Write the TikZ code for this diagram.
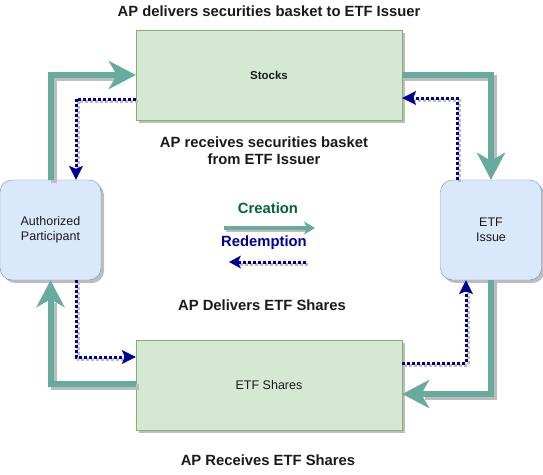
\documentclass[tikz,border=0pt]{standalone}
\usepackage{fontspec}
\setmainfont{Liberation Sans}
\usetikzlibrary{arrows.meta,shadows,calc}
\definecolor{sfill}{HTML}{D5E8D4}
\definecolor{sdraw}{HTML}{82B366}
\definecolor{afill}{HTML}{DAE8FC}
\definecolor{adraw}{HTML}{6C8EBF}
\definecolor{garrow}{HTML}{67AB9F}
\definecolor{barrow}{HTML}{000099}
\definecolor{shgray}{HTML}{BDBDBD}
\definecolor{cgreen}{HTML}{006633}
\definecolor{txt}{HTML}{1A1A1A}
\begin{document}
\begin{tikzpicture}[x=1pt,y=-1pt,
  boxshadow/.style={drop shadow={shadow xshift=3pt,shadow yshift=-3pt,fill=shgray,opacity=1}},
  sbox/.style={draw=sdraw,fill=sfill,minimum width=266pt,minimum height=90pt,inner sep=0pt,boxshadow,
    font=\fontsize{12.5}{15}\selectfont,text=txt},
  abox/.style={draw=adraw,fill=afill,rounded corners=12pt,minimum width=101pt,minimum height=100pt,inner sep=0pt,boxshadow,
    align=center,font=\fontsize{12.5}{15}\selectfont,text=txt},
  label/.style={font=\bfseries\fontsize{14.8}{17}\selectfont,text=txt,align=center},
  thickarrow/.style={line width=6pt,draw=garrow,-{Stealth[length=27pt,width=28pt,inset=8pt]}},
  thickshadow/.style={line width=6pt,draw=shgray,shorten >=20pt},
  dotarrow/.style={line width=3pt,draw=barrow,dash pattern=on 3pt off 2pt,-{Stealth[length=14pt,width=14pt,inset=3pt,line width=0pt]}},
  dotshadow/.style={line width=3pt,draw=shgray,dash pattern=on 3pt off 2pt,shorten >=10pt},
]
\useasboundingbox (0,0) rectangle (543,474);
\node[sbox,font=\bfseries\fontsize{11.5}{14}\selectfont] (stocks) at (269,75) {Stocks};
\node[sbox] (shares) at (269,385) {ETF Shares};
\node[abox] (ap) at (50.5,230) {Authorized\\Participant};
\node[abox] (etf) at (491,230) {ETF\\Issue};

% shadows of connectors
\begin{scope}[transform canvas={xshift=3pt,yshift=-3pt}]
\draw[thickshadow] (ap.north) |- (stocks.west);
\draw[thickshadow] (stocks.east) -| (etf.north);
\draw[thickshadow] (etf.south) |- ($(shares.east)+(0,9)$);
\draw[thickshadow] ($(shares.west)+(0,-1)$) -| (ap.south);
\end{scope}
\begin{scope}[transform canvas={xshift=2pt,yshift=-2pt}]
\draw[dotshadow] ($(stocks.west)+(0,24)$) -| ($(ap.north)+(25.5,0)$);
\draw[dotshadow] ($(etf.north)+(-34,0)$) |- ($(stocks.east)+(0,23)$);
\draw[dotshadow] ($(ap.south)+(25.5,0)$) |- ($(shares.west)+(0,-28)$);
\draw[dotshadow] ($(shares.east)+(0,-22)$) -| ($(etf.south)+(-25,0)$);
\end{scope}

% thick green arrows
\draw[thickarrow] (ap.north) |- (stocks.west);
\draw[thickarrow] (stocks.east) -| (etf.north);
\draw[thickarrow] (etf.south) |- ($(shares.east)+(0,9)$);
\draw[thickarrow] ($(shares.west)+(0,-1)$) -| (ap.south);

% dotted blue arrows
\draw[dotarrow] ($(stocks.west)+(0,24)$) -| ($(ap.north)+(25.5,0)$);
\draw[dotarrow] ($(etf.north)+(-34,0)$) |- ($(stocks.east)+(0,23)$);
\draw[dotarrow] ($(ap.south)+(25.5,0)$) |- ($(shares.west)+(0,-28)$);
\draw[dotarrow] ($(shares.east)+(0,-22)$) -| ($(etf.south)+(-25,0)$);

% labels
\node[label] (l1) at (269,11) {AP delivers securities basket to ETF Issuer};
\node[label] (l2) at (264,151) {AP receives securities basket\\from ETF Issuer};
\node[label] (l3) at (262,305) {AP Delivers ETF Shares};
\node[label] (l4) at (268,460) {AP Receives ETF Shares};
\node[label,text=cgreen] (cr) at (268,208) {Creation};
\node[label,text=barrow] (rd) at (264,243) {Redemption};

% legend arrows
\coordinate (c1) at (224,228);
\coordinate (c2) at (315,228);
\coordinate (r1) at (306,262);
\coordinate (r2) at (229,262);
\begin{scope}[transform canvas={xshift=2pt,yshift=-2pt}]
\draw[line width=4pt,draw=shgray,shorten >=8pt] (c1) -- (c2);
\draw[line width=3pt,draw=shgray,dash pattern=on 3pt off 2pt,shorten >=8pt] (r1) -- (r2);
\end{scope}
\draw[line width=4pt,draw=garrow,-{Stealth[length=11pt,width=13pt,inset=3pt]}] (c1) -- (c2);
\draw[line width=3pt,draw=barrow,dash pattern=on 3pt off 2pt,-{Stealth[length=12pt,width=13pt,inset=3pt,line width=0pt]}] (r1) -- (r2);
\end{tikzpicture}
\end{document}
